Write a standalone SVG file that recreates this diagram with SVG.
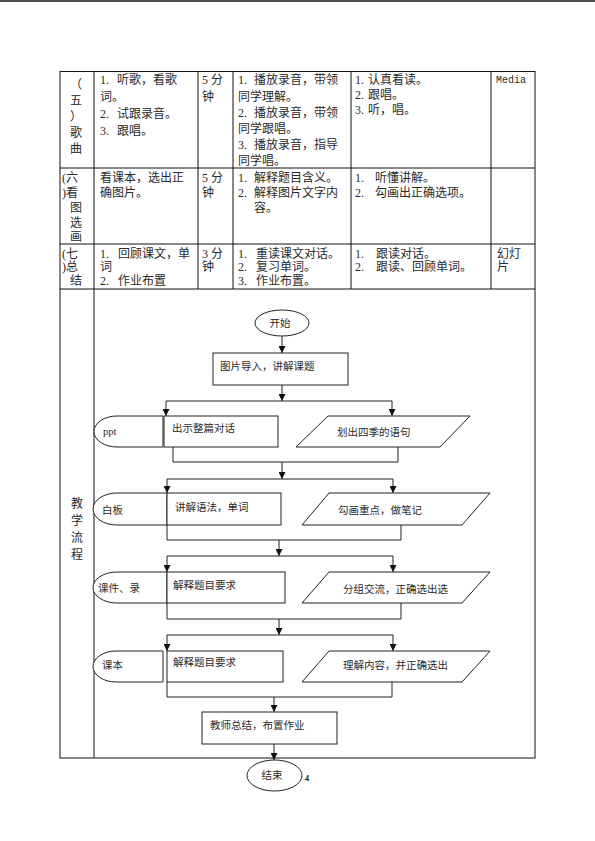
<svg xmlns="http://www.w3.org/2000/svg" width="595" height="841" viewBox="0 0 595 841">
<defs>
<marker id="arr" markerUnits="userSpaceOnUse" markerWidth="7" markerHeight="7" refX="7" refY="3.5" orient="auto">
<path d="M0,0 L7,3.5 L0,7 z" fill="#111"/>
</marker>
<style>
.t{font-family:"Liberation Serif","Noto Sans CJK SC",serif;font-size:12px;fill:#2a2a2a}
.f{font-family:"Liberation Serif","Noto Sans CJK SC",serif;font-size:10.5px;fill:#2a2a2a}
.m{font-family:"Liberation Mono","Noto Sans CJK SC",monospace;font-size:10px;fill:#2a2a2a}
.tb{stroke:#111;stroke-width:1;fill:none}
.sh{stroke:#222;stroke-width:1;fill:#fff}
.ln{stroke:#222;stroke-width:1;fill:none}
.ar{stroke:#222;stroke-width:1;fill:none;marker-end:url(#arr)}
</style>
</defs>
<rect width="595" height="841" fill="#fff"/>
<line x1="0" y1="1" x2="595" y2="1" stroke="#111" stroke-width="1.5"/>

<g id="table">
<rect class="tb" x="60" y="71.5" width="475" height="686.5" stroke-width="1.3"/>
<line class="tb" x1="60" y1="168" x2="535" y2="168"/>
<line class="tb" x1="60" y1="244" x2="535" y2="244"/>
<line class="tb" x1="60" y1="289" x2="535" y2="289"/>
<line class="tb" x1="94" y1="71.5" x2="94" y2="758"/>
<line class="tb" x1="198" y1="71.5" x2="198" y2="289"/>
<line class="tb" x1="233" y1="71.5" x2="233" y2="289"/>
<line class="tb" x1="351" y1="71.5" x2="351" y2="289"/>
<line class="tb" x1="491" y1="71.5" x2="491" y2="289"/>
</g>

<g id="row5">
<text class="t" x="70" y="89">（</text>
<text class="t" x="70" y="105">五</text>
<text class="t" x="70" y="121">）</text>
<text class="t" x="70" y="137">歌</text>
<text class="t" x="70" y="153">曲</text>
<text class="t" x="100" y="84">1.</text><text class="t" x="117" y="84">听歌，看歌</text>
<text class="t" x="100" y="101">词。</text>
<text class="t" x="100" y="118">2.</text><text class="t" x="117" y="118">试跟录音。</text>
<text class="t" x="100" y="135">3.</text><text class="t" x="117" y="135">跟唱。</text>
<text class="t" x="202" y="84">5 分</text>
<text class="t" x="202" y="101">钟</text>
<text class="t" x="238" y="84">1.</text><text class="t" x="254" y="84">播放录音，带领</text>
<text class="t" x="238" y="101">同学理解。</text>
<text class="t" x="238" y="117">2.</text><text class="t" x="254" y="117">播放录音，带领</text>
<text class="t" x="238" y="133">同学跟唱。</text>
<text class="t" x="238" y="149">3.</text><text class="t" x="254" y="149">播放录音，指导</text>
<text class="t" x="238" y="165">同学唱。</text>
<text class="t" x="355" y="84">1.</text><text class="t" x="368" y="84">认真看读。</text>
<text class="t" x="355" y="99">2.</text><text class="t" x="368" y="99">跟唱。</text>
<text class="t" x="355" y="114">3.</text><text class="t" x="368" y="114">听，唱。</text>
<text class="m" x="496" y="83">Media</text>
</g>

<g id="row6">
<text class="t" x="62" y="182">(六</text>
<text class="t" x="62" y="197">)看</text>
<text class="t" x="70" y="212">图</text>
<text class="t" x="70" y="227">选</text>
<text class="t" x="70" y="241">画</text>
<text class="t" x="100" y="182">看课本，选出正</text>
<text class="t" x="100" y="197">确图片。</text>
<text class="t" x="202" y="182">5 分</text>
<text class="t" x="202" y="197">钟</text>
<text class="t" x="238" y="182">1.</text><text class="t" x="254" y="182">解释题目含义。</text>
<text class="t" x="238" y="197">2.</text><text class="t" x="254" y="197">解释图片文字内</text>
<text class="t" x="254" y="212">容。</text>
<text class="t" x="355" y="182">1.</text><text class="t" x="375" y="182">听懂讲解。</text>
<text class="t" x="355" y="197">2.</text><text class="t" x="375" y="197">勾画出正确选项。</text>
</g>

<g id="row7">
<text class="t" x="62" y="258">(七</text>
<text class="t" x="62" y="271">)总</text>
<text class="t" x="70" y="285">结</text>
<text class="t" x="100" y="258">1.</text><text class="t" x="118" y="258">回顾课文，单</text>
<text class="t" x="100" y="271">词</text>
<text class="t" x="100" y="285">2.</text><text class="t" x="118" y="285">作业布置</text>
<text class="t" x="202" y="258">3 分</text>
<text class="t" x="202" y="271">钟</text>
<text class="t" x="238" y="258">1.</text><text class="t" x="256" y="258">重读课文对话。</text>
<text class="t" x="238" y="271">2.</text><text class="t" x="256" y="271">复习单词。</text>
<text class="t" x="238" y="285">3.</text><text class="t" x="256" y="285">作业布置。</text>
<text class="t" x="355" y="258">1.</text><text class="t" x="376" y="258">跟读对话。</text>
<text class="t" x="355" y="271">2.</text><text class="t" x="376" y="271">跟读、回顾单词。</text>
<text class="t" x="497" y="258">幻灯</text>
<text class="t" x="497" y="271">片</text>
</g>

<g id="row-flow-label">
<text class="t" x="77" y="508" text-anchor="middle">教</text>
<text class="t" x="77" y="525" text-anchor="middle">学</text>
<text class="t" x="77" y="542" text-anchor="middle">流</text>
<text class="t" x="77" y="559" text-anchor="middle">程</text>
</g>

<g id="connectors">
<line class="ar" x1="282" y1="336" x2="282" y2="353"/>
<line class="ar" x1="282" y1="385" x2="282" y2="401"/>
<line class="ln" x1="166" y1="401" x2="392" y2="401"/>
<line class="ar" x1="166" y1="401" x2="166" y2="416"/>
<line class="ar" x1="392" y1="401" x2="392" y2="416"/>
<polyline class="ln" points="173,447 173,462 398,462 398,447"/>
<line class="ar" x1="282" y1="462" x2="282" y2="479"/>
<line class="ln" x1="167" y1="479" x2="393" y2="479"/>
<line class="ar" x1="167" y1="479" x2="167" y2="493"/>
<line class="ar" x1="393" y1="479" x2="393" y2="493"/>
<polyline class="ln" points="167,525 167,540 401,540 401,525"/>
<line class="ar" x1="279" y1="540" x2="279" y2="556"/>
<line class="ln" x1="167" y1="556" x2="393" y2="556"/>
<line class="ar" x1="167" y1="556" x2="167" y2="572"/>
<line class="ar" x1="393" y1="556" x2="393" y2="572"/>
<polyline class="ln" points="167,603 167,619 401,619 401,603"/>
<line class="ar" x1="279" y1="619" x2="279" y2="635"/>
<line class="ln" x1="167" y1="635" x2="393" y2="635"/>
<line class="ar" x1="167" y1="635" x2="167" y2="651"/>
<line class="ar" x1="393" y1="635" x2="393" y2="651"/>
<polyline class="ln" points="167,682 167,697 392,697 392,682"/>
<line class="ar" x1="274" y1="697" x2="274" y2="712"/>
<line class="ar" x1="274" y1="744" x2="274" y2="760"/>
</g>

<g id="start">
<ellipse class="sh" cx="282" cy="323" rx="27" ry="13"/>
<text class="f" x="280" y="326.5" text-anchor="middle">开始</text>
</g>
<g id="intro">
<rect class="sh" x="213" y="353" width="135" height="32"/>
<text class="f" x="220" y="370">图片导入，讲解课题</text>
</g>

<g id="ppt">
<path class="sh" d="M163,416 H117 A23,15.5 0 0 0 117,447 H163 Z"/>
<text class="f" x="103" y="435">ppt</text>
</g>
<g id="show-dialog">
<rect class="sh" x="164" y="416" width="114" height="31"/>
<text class="f" x="172" y="432">出示整篇对话</text>
</g>
<g id="mark-seasons">
<polygon class="sh" points="328,416 470,416 440,447 296,447"/>
<text class="f" x="337" y="436">划出四季的语句</text>
</g>

<g id="whiteboard">
<path class="sh" d="M167,493 H117 A24,16 0 0 0 117,525 H167 Z"/>
<text class="f" x="102" y="514">白板</text>
</g>
<g id="grammar">
<rect class="sh" x="167" y="493" width="114" height="32"/>
<text class="f" x="175" y="511">讲解语法，单词</text>
</g>
<g id="notes">
<polygon class="sh" points="329,493 490,493 462,525 302,525"/>
<text class="f" x="338" y="514">勾画重点，做笔记</text>
</g>

<g id="courseware">
<path class="sh" d="M167,572 H117 A24,15.5 0 0 0 117,603 H167 Z"/>
<text class="f" x="98" y="592">课件、录</text>
</g>
<g id="explain1">
<rect class="sh" x="167" y="572" width="118" height="31"/>
<text class="f" x="173" y="589">解释题目要求</text>
</g>
<g id="group">
<polygon class="sh" points="329,572 490,572 462,603 302,603"/>
<text class="f" x="343" y="593">分组交流，正确选出选</text>
</g>

<g id="textbook">
<path class="sh" d="M163,651 H116 A23,15.5 0 0 0 116,682 H163 Z"/>
<text class="f" x="102" y="669">课本</text>
</g>
<g id="explain2">
<rect class="sh" x="167" y="651" width="116" height="31"/>
<text class="f" x="173" y="666">解释题目要求</text>
</g>
<g id="understand">
<polygon class="sh" points="329,651 490,651 462,682 302,682"/>
<text class="f" x="343" y="669">理解内容，并正确选出</text>
</g>

<g id="summary">
<rect class="sh" x="202" y="712" width="135" height="32"/>
<text class="f" x="210" y="729">教师总结，布置作业</text>
</g>
<g id="end">
<ellipse class="sh" cx="274.5" cy="775.5" rx="27.5" ry="15.5"/>
<text class="f" x="272" y="779" text-anchor="middle">结束</text>
</g>
<text x="305" y="781" font-family="Liberation Serif,serif" font-size="8" font-weight="bold" fill="#111">4</text>
</svg>
